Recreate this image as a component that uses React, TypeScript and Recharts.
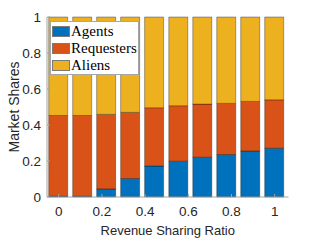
import { BarChart, Bar, XAxis, YAxis, Legend } from 'recharts'

// revenue sharing ratio of each bar (10 points from 0 to 1)
const RATIOS = [0, 0.111, 0.222, 0.333, 0.444, 0.556, 0.667, 0.778, 0.889, 1]
const AGENTS = [0.004, 0.004, 0.045, 0.103, 0.172, 0.199, 0.221, 0.236, 0.256, 0.271]
const REQUESTERS = [0.449, 0.449, 0.414, 0.367, 0.324, 0.308, 0.295, 0.284, 0.275, 0.269]
const ALIENS = [0.547, 0.547, 0.541, 0.53, 0.504, 0.493, 0.484, 0.48, 0.469, 0.46]
const TICKS = [0, 0.2, 0.4, 0.6, 0.8, 1]

const SERIES = [
  { key: 'agents', name: 'Agents', color: '#0072BD' },
  { key: 'requesters', name: 'Requesters', color: '#D95319' },
  { key: 'aliens', name: 'Aliens', color: '#EDB120' },
]

const data = RATIOS.map((ratio, i) => ({
  ratio,
  agents: AGENTS[i],
  requesters: REQUESTERS[i],
  aliens: ALIENS[i],
}))

const AXIS = '#a3a3a3'
const TEXT = '#262626'
const X_DOMAIN = [-0.0542, 1.0639]
const fmt = (v: number) => String(+v.toFixed(1))

function LegendBox() {
  return (
    <div
      style={{
        width: 89,
        height: 54,
        boxSizing: 'border-box',
        border: '1px solid #a6a6a6',
        background: '#fff',
        padding: '1px 0 0 1px',
        fontFamily: '"Liberation Serif", serif',
        fontSize: 15,
        color: '#000',
        textAlign: 'left',
      }}
    >
      {SERIES.map((s) => (
        <div key={s.key} style={{ display: 'flex', alignItems: 'center', height: 17, lineHeight: '17px' }}>
          <span
            style={{
              width: 18,
              height: 11,
              boxSizing: 'border-box',
              background: s.color,
              border: '1px solid #7a7a7a',
              marginRight: 1,
              flexShrink: 0,
            }}
          />
          {s.name}
        </div>
      ))}
    </div>
  )
}

export default function App() {
  return (
    <div style={{ position: 'absolute', left: 0, top: 0, width: 318, height: 241, background: '#fff' }}>
      <BarChart
        width={318}
        height={241}
        data={data}
        margin={{ top: 17, right: 29.5, bottom: 0, left: 0 }}
        style={{ fontFamily: '"Liberation Sans", Arial, sans-serif' }}
      >
        <XAxis
          dataKey="ratio"
          type="number"
          domain={X_DOMAIN}
          allowDataOverflow
          ticks={TICKS}
          height={44}
          tickSize={-3}
          tickMargin={12}
          stroke={AXIS}
          tick={{ fill: TEXT, fontSize: 13.5 }}
          tickFormatter={fmt}
          label={{
            content: ({ viewBox }: any) => (
              <text x={viewBox.x + viewBox.width / 2} y={235} textAnchor="middle" fill={TEXT} fontSize={13}>
                Revenue Sharing Ratio
              </text>
            ),
          }}
        />
        <XAxis
          xAxisId="top"
          dataKey="ratio"
          type="number"
          orientation="top"
          domain={X_DOMAIN}
          allowDataOverflow
          ticks={TICKS}
          height={0}
          tickSize={-3}
          tick={false}
          stroke={AXIS}
        />
        <YAxis
          domain={[0, 1]}
          ticks={TICKS}
          width={47}
          tickSize={-3}
          tickMargin={9}
          stroke={AXIS}
          tick={{ fill: TEXT, fontSize: 13.5 }}
          tickFormatter={fmt}
          label={{
            content: ({ viewBox }: any) => {
              const cx = 13.5
              const cy = viewBox.y + viewBox.height / 2
              return (
                <text
                  x={cx}
                  y={cy}
                  transform={`rotate(-90 ${cx} ${cy})`}
                  textAnchor="middle"
                  dominantBaseline="central"
                  fill={TEXT}
                  fontSize={14}
                >
                  Market Shares
                </text>
              )
            },
          }}
        />
        <YAxis
          yAxisId="right"
          orientation="right"
          domain={[0, 1]}
          ticks={TICKS}
          width={0}
          tickSize={-3}
          tick={false}
          stroke={AXIS}
        />
        <Legend
          layout="vertical"
          align="center"
          verticalAlign="middle"
          content={() => <LegendBox />}
          wrapperStyle={{ left: 50, top: 21, width: 89, height: 54 }}
        />
        {SERIES.map((s) => (
          <Bar
            key={s.key}
            dataKey={s.key}
            name={s.name}
            stackId="share"
            fill={s.color}
            stroke="#000"
            strokeOpacity={0.55}
            strokeWidth={0.6}
            barSize={19}
            isAnimationActive={false}
          />
        ))}
      </BarChart>
    </div>
  )
}
